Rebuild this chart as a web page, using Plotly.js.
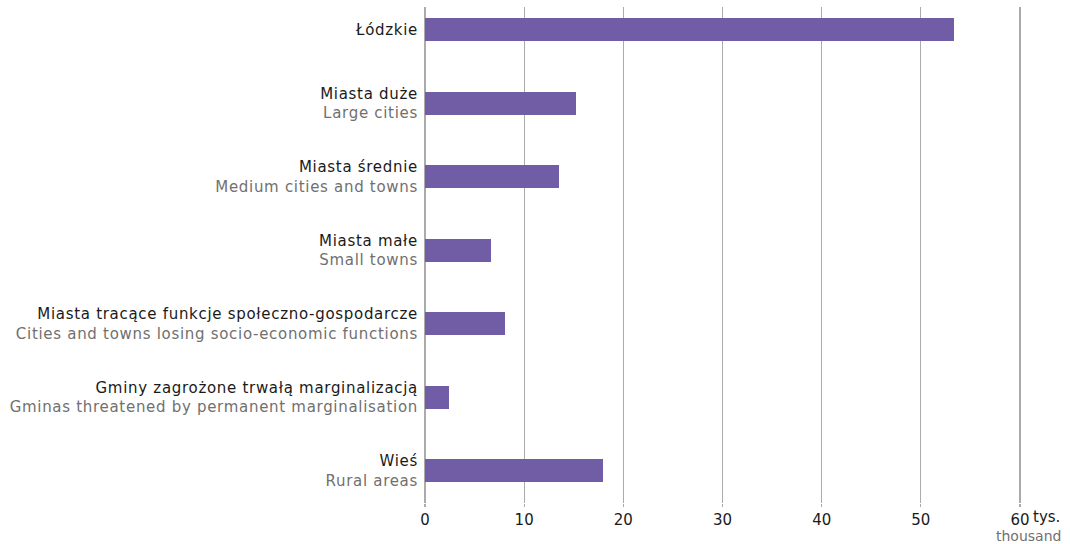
<!DOCTYPE html>
<html><head><meta charset="utf-8">
<script src="https://cdn.plot.ly/plotly-3.0.1.min.js"></script>
<style>
html,body{margin:0;padding:0;background:#fff}
#chart .yaxislayer-above text{letter-spacing:0.7px}
</style>
</head><body>
<div id="chart" style="width:1070px;height:544px"></div>
<script>
const categoriesPl = ["Łódzkie","Miasta duże","Miasta średnie","Miasta małe","Miasta tracące funkcje społeczno-gospodarcze","Gminy zagrożone trwałą marginalizacją","Wieś"];
const categoriesEn = ["","Large cities","Medium cities and towns","Small towns","Cities and towns losing socio-economic functions","Gminas threatened by permanent marginalisation","Rural areas"];
const values = [53.3, 15.2, 13.5, 6.7, 8.1, 2.4, 17.9];
const xTicks = [0,10,20,30,40,50,60];

const tickText = categoriesPl.map((p,i)=> categoriesEn[i] ? p + "<br><span style='color:#707070'>" + categoriesEn[i] + "</span>" : p);

const trace = {
  type:'bar', orientation:'h',
  x: values, y: categoriesPl,
  width: 0.314,
  marker:{color:'#715ca6'},
  hoverinfo:'x+y'
};
const FONT = '"DejaVu Sans", sans-serif';
const layout = {
  width:1070, height:544,
  margin:{l:425, r:47, t:7, b:41},
  paper_bgcolor:'#fff', plot_bgcolor:'#fff',
  font:{family:FONT, size:14, color:'#1a1a1a'},
  showlegend:false,
  bargap:0,
  xaxis:{range:[0,60.3], tickvals:xTicks, ticktext:xTicks.map(String),
    showgrid:true, gridcolor:'#ababab', gridwidth:1.3,
    zeroline:true, zerolinecolor:'#ababab', zerolinewidth:1.3,
    showline:false, ticks:'outside', ticklen:3, tickcolor:'#ababab', tickwidth:1.3,
    tickfont:{family:FONT, size:15, color:'#1a1a1a'}, fixedrange:true},
  yaxis:{type:'category', categoryorder:'array', categoryarray:categoriesPl,
    range:[6.44,-0.31], tickvals:categoriesPl, ticktext:tickText,
    showgrid:false, zeroline:false, showline:false, ticks:'', ticklabelstandoff:6,
    tickfont:{family:FONT, size:15, color:'#1a1a1a'}, fixedrange:true},
  annotations:[
    {xref:'paper', yref:'paper', x:1.0, y:0, xanchor:'left', yanchor:'top', yshift:-3, xshift:8,
     text:'tys.', showarrow:false, font:{family:FONT, size:15, color:'#1a1a1a'}},
    {xref:'paper', yref:'paper', x:1.0, y:0, xanchor:'right', yanchor:'top', yshift:-23, xshift:40,
     text:'thousand', showarrow:false, font:{family:FONT, size:14, color:'#707070'}}
  ]
};
Plotly.newPlot('chart',[trace],layout,{displayModeBar:false, staticPlot:true});
</script>
</body></html>
